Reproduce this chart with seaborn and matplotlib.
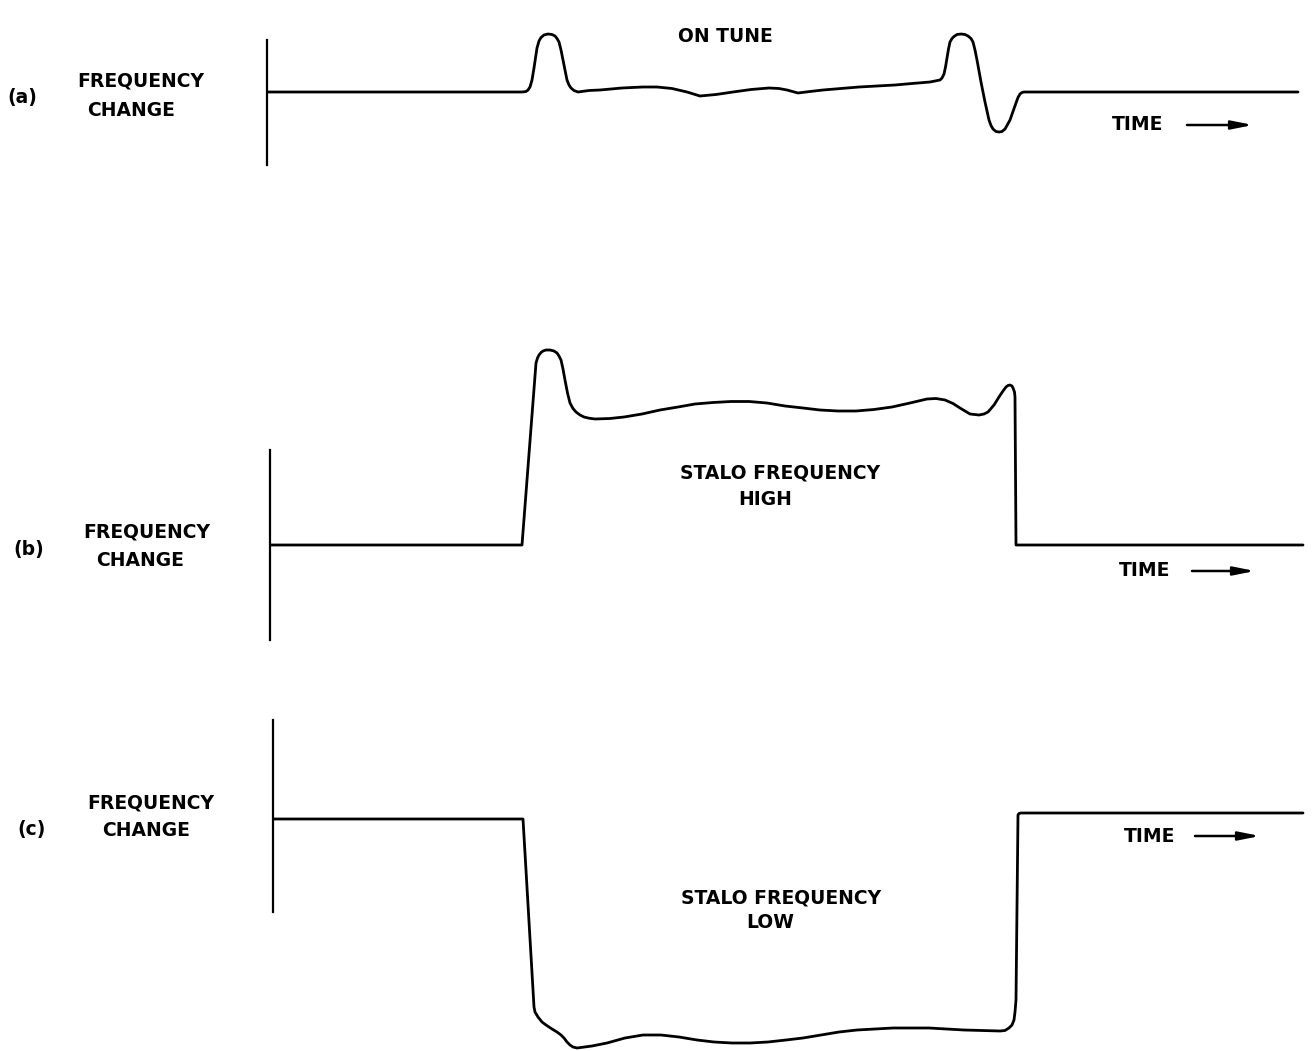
import matplotlib
matplotlib.use("Agg")
import matplotlib.pyplot as plt
import seaborn as sns

# Traces: time (arbitrary units from the y-axis) vs frequency change
# (a) on tune
time_a = [0, 25.5, 25.9, 26.1, 26.3, 26.5, 26.7, 27.0, 27.2, 27.4, 27.7, 28.1, 28.5, 28.8,
          29.0, 29.2, 29.4, 29.6, 29.8, 30.0, 30.2, 30.4, 30.7, 31.1,
          32.2, 33.3, 35.5, 37.6, 39.0, 40.5, 42.0, 43.3, 44.9, 46.6, 48.4, 50.2, 51.2,
          52.0, 53.1, 54.3, 55.6, 57.4, 59.2, 61.0, 62.8, 64.5, 66.3, 67.3,
          67.5, 67.7, 67.85, 68.0, 68.15, 68.3, 68.5, 68.7, 69.0, 69.4, 69.8, 70.1, 70.4,
          70.6, 70.8, 71.0, 71.4, 71.8, 72.2, 72.4, 72.6, 72.9, 73.2, 73.5, 73.8, 74.0,
          74.3, 74.9, 75.1, 75.3, 75.5, 75.7, 103.1]
freq_a = [0, 0, 0.05, 0.2, 0.5, 1.2, 2.4, 4.4, 5.1, 5.45, 5.7, 5.8, 5.75, 5.6,
          5.35, 5.0, 4.2, 3.2, 2.2, 1.2, 0.7, 0.4, 0.15, 0.0,
          0.15, 0.2, 0.4, 0.5, 0.5, 0.35, 0.0, -0.4, -0.25, 0.0, 0.25, 0.4, 0.35,
          0.2, -0.1, 0.05, 0.2, 0.35, 0.5, 0.6, 0.7, 0.85, 1.0, 1.2,
          1.4, 1.8, 2.5, 3.4, 4.3, 5.0, 5.35, 5.55, 5.75, 5.8, 5.75, 5.6, 5.35,
          5.0, 4.2, 3.2, 1.0, -1.0, -2.8, -3.35, -3.7, -3.95, -4.0, -3.95, -3.7, -3.35,
          -2.8, -1.1, -0.55, -0.2, -0.05, 0.0, 0.0]

# (b) stalo frequency high
time_b = [0, 25.2, 26.6, 26.75, 26.9, 27.1, 27.3, 27.6, 28.0, 28.4, 28.7, 28.9, 29.1,
          29.3, 29.5, 29.75, 30.0, 30.3, 30.6, 31.0, 31.4, 31.9, 32.5, 34.0, 35.4, 37.2,
          39.0, 40.8, 42.5, 44.3, 46.1, 47.9, 49.7, 51.5, 53.3, 55.0, 56.8, 58.6, 60.4,
          62.2, 64.0, 65.7, 66.6, 67.5, 68.3, 69.0, 70.0, 70.9, 71.4, 71.8, 72.4, 72.9,
          73.3, 73.6, 73.8, 74.0, 74.2, 74.3, 74.45, 74.5, 74.6, 103.3]
freq_b = [0, 0, 18.2, 18.7, 19.0, 19.25, 19.4, 19.5, 19.5, 19.4, 19.2, 18.9, 18.5,
          17.6, 16.5, 15.2, 14.2, 13.65, 13.3, 13.0, 12.8, 12.68, 12.6, 12.65, 12.8, 13.1,
          13.5, 13.8, 14.1, 14.25, 14.35, 14.35, 14.2, 13.9, 13.7, 13.5, 13.4, 13.4, 13.55,
          13.8, 14.2, 14.6, 14.65, 14.5, 14.15, 13.7, 13.1, 13.0, 13.1, 13.3, 14.0, 14.8,
          15.4, 15.8, 15.95, 16.0, 15.9, 15.7, 15.3, 14.8, 0, 0]

# (c) stalo frequency low
time_c = [0, 25.0, 26.1, 26.2, 26.5, 26.9, 27.3, 27.9, 28.4, 28.8, 29.1, 29.4, 29.7,
          30.0, 30.4, 31.9, 33.4, 35.2, 37.0, 38.8, 40.6, 42.4, 44.1, 45.9, 47.7, 49.5,
          51.3, 53.0, 54.8, 56.6, 58.4, 60.2, 62.0, 65.6, 69.1, 72.7, 73.2, 73.6, 73.9,
          74.1, 74.2, 74.3, 74.5, 74.6, 74.8, 103.0]
freq_c = [0, 0, -18.8, -19.3, -19.8, -20.3, -20.6, -21.0, -21.3, -21.6, -21.9, -22.3, -22.6,
          -22.8, -22.9, -22.7, -22.4, -21.9, -21.6, -21.6, -21.8, -22.1, -22.3, -22.4, -22.4, -22.3,
          -22.1, -21.9, -21.6, -21.3, -21.1, -21.0, -20.9, -20.9, -21.1, -21.2, -21.15, -20.9, -20.6,
          -20.1, -19.3, -18.1, 0.4, 0.55, 0.6, 0.6]

panel_tags = ["(a)", "(b)", "(c)"]
ylabel = ["FREQUENCY", "CHANGE"]

sns.set_style("white")
plt.rcParams["font.family"] = ["DejaVu Sans"]

W, H = 1315, 1051
fig = plt.figure(figsize=(W / 100, H / 100), dpi=100)


def make_ax(x0, top, bottom, base):
    # axes box given in pixels; data units are 10 px, zero at the trace baseline
    ax = fig.add_axes([x0 / W, 1 - bottom / H, (W - x0) / W, (bottom - top) / H])
    ax.set_xlim(0, (W - x0) / 10)
    ax.set_ylim((base - bottom) / 10, (base - top) / 10)
    ax.set_xticks([])
    ax.set_yticks([])
    for s in ["top", "right", "bottom"]:
        ax.spines[s].set_visible(False)
    ax.spines["left"].set_linewidth(1.6)
    ax.spines["left"].set_color("black")
    ax.patch.set_alpha(0)
    return ax


txt = dict(fontsize=13.5, fontweight="bold", color="black", ha="center", va="center")
arrow = dict(arrowstyle="-|>,head_length=0.9,head_width=0.18", color="black", lw=1.8,
             shrinkA=0, shrinkB=0, mutation_scale=14)
line_kw = dict(sort=False, estimator=None, color="black", lw=2.0)

# (a)
ax_a = make_ax(267, 20, 180, 92)
ax_a.spines["left"].set_bounds(-7.3, 5.2)
sns.lineplot(x=time_a, y=freq_a, ax=ax_a, **line_kw)
ax_a.text(45.8, 5.6, "ON TUNE", **txt)
ax_a.text(87.1, -3.3, "TIME", **txt)
ax_a.annotate("", xy=(98.6, -3.3), xytext=(92.0, -3.3), arrowprops=arrow)

# (b)
ax_b = make_ax(270, 330, 660, 545)
ax_b.spines["left"].set_bounds(-9.5, 9.5)
sns.lineplot(x=time_b, y=freq_b, ax=ax_b, **line_kw)
ax_b.text(51.0, 7.2, "STALO FREQUENCY", **txt)
ax_b.text(49.5, 4.5, "HIGH", **txt)
ax_b.text(87.5, -2.6, "TIME", **txt)
ax_b.annotate("", xy=(98.5, -2.6), xytext=(92.2, -2.6), arrowprops=arrow)

# (c)
ax_c = make_ax(273, 700, 1051, 819)
ax_c.spines["left"].set_bounds(-9.3, 9.9)
sns.lineplot(x=time_c, y=freq_c, ax=ax_c, **line_kw)
ax_c.text(50.8, -7.9, "STALO FREQUENCY", **txt)
ax_c.text(49.7, -10.4, "LOW", **txt)
ax_c.text(87.7, -1.7, "TIME", **txt)
ax_c.annotate("", xy=(98.7, -1.7), xytext=(92.2, -1.7), arrowprops=arrow)

# left-hand labels (pixel positions of the original layout)
label_pos = [((22, 98), (141, 81), (131, 110)),
             ((29, 549), (147, 532), (140, 560)),
             ((32, 830), (151, 803), (146, 830))]
for tag, (p_tag, p1, p2) in zip(panel_tags, label_pos):
    fig.text(p_tag[0] / W, 1 - p_tag[1] / H, tag, **txt)
    fig.text(p1[0] / W, 1 - p1[1] / H, ylabel[0], **txt)
    fig.text(p2[0] / W, 1 - p2[1] / H, ylabel[1], **txt)

fig.savefig("out.png", dpi=100, facecolor="white")
